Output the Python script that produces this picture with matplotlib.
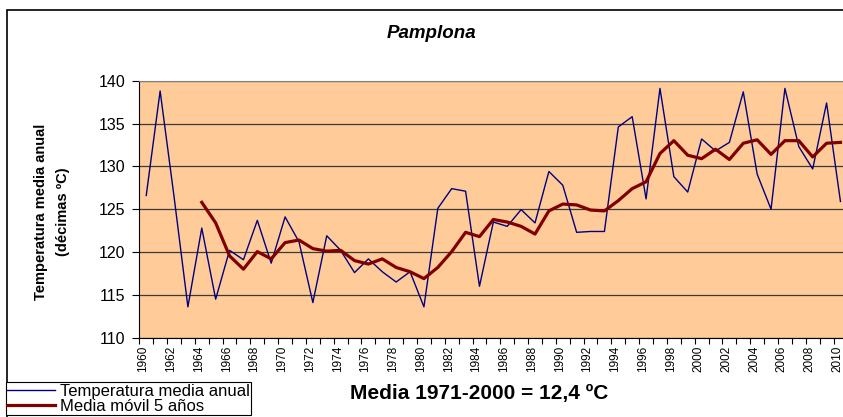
import matplotlib
matplotlib.use("Agg")
import matplotlib.pyplot as plt
import matplotlib.transforms as mtransforms
from matplotlib.patches import Rectangle
import numpy as np

plt.rcParams['font.family'] = ['Liberation Sans', 'DejaVu Sans']

# annual mean temperature, Pamplona (tenths of degree C)
years = list(range(1960, 2011))
temp = [126.6, 138.8, 126.5, 113.6, 122.8, 114.5, 120.2, 119.1, 123.7, 118.7,
        124.1, 121.2, 114.1, 121.9, 120.2, 117.6, 119.2, 117.7, 116.5, 117.7,
        113.6, 125.1, 127.4, 127.1, 116.0, 123.5, 123.0, 124.95, 123.4, 129.4,
        127.8, 122.3, 122.4, 122.4, 134.6, 135.8, 126.2, 139.1, 128.8, 127.0,
        133.2, 131.8, 132.8, 138.7, 129.1, 125.0, 139.1, 132.3, 129.7, 137.4,
        125.9]

# 5-year moving average, from 1964
ma_years = list(range(1964, 2011))
ma = [125.8, 123.4, 119.55, 118.0, 120.05, 119.2, 121.1, 121.4, 120.4, 120.1,
      120.2, 119.0, 118.6, 119.2, 118.2, 117.7, 116.9, 118.2, 120.05, 122.3,
      121.8, 123.8, 123.5, 123.0, 122.1, 124.8, 125.6, 125.5, 124.9, 124.8,
      126.0, 127.4, 128.2, 131.5, 133.0, 131.3, 130.9, 132.0, 130.8, 132.7,
      133.1, 131.4, 133.0, 133.0, 131.1, 132.7, 132.8]

W, H = 843, 417
fig = plt.figure(figsize=(W / 100, H / 100), dpi=100)

# outer chart border
fig.add_artist(Rectangle((7 / W, -0.05), 1.1, 1 - 10 / H + 0.05, transform=fig.transFigure,
                         fill=False, edgecolor='black', linewidth=1.2))

left, right, top, bottom = 139.3, 847.4, 80.7, 337.7
ax = fig.add_axes([left / W, 1 - bottom / H, (right - left) / W, (bottom - top) / H])
ax.set_facecolor('#FFCC99')

ax.plot(years, temp, color='#000080', linewidth=1.0, label='Temperatura media anual')
ax.plot(ma_years, ma, color='#800000', linewidth=2.3, label='Media móvil 5 años')

ax.set_xlim(1959.5, 2010.5)
ax.set_ylim(110, 140)
ax.set_yticks(range(110, 141, 5))
ax.yaxis.grid(True, color='#3a3a3a', linewidth=0.9)
ax.set_axisbelow(True)

ax.set_xticks(range(1960, 2011, 2))
ax.set_xticklabels([str(y) for y in range(1960, 2011, 2)], rotation=90, fontsize=8.5)
ax.set_xticks(np.arange(1959.5, 2011, 1), minor=True)
ax.tick_params(axis='x', which='major', length=0, pad=6)
ax.tick_params(axis='x', which='minor', length=4.5, width=0.8, color='black')
ax.tick_params(axis='y', length=5, width=0.8, labelsize=11.5, pad=5)
shift = mtransforms.ScaledTranslation(-3 / 100, 0, fig.dpi_scale_trans)
for lab in ax.get_xticklabels():
    lab.set_transform(lab.get_transform() + shift)

ax.spines['left'].set_color('black')
ax.spines['bottom'].set_color('black')
ax.spines['top'].set_color('#808080')
ax.spines['right'].set_visible(False)

fig.text(431 / W, 1 - 33 / H, 'Pamplona', ha='center', va='center',
         fontsize=13.5, fontweight='bold', fontstyle='italic')
fig.text(52 / W, 1 - 212 / H, 'Temperatura media anual\n(décimas ºC)', ha='center', va='center',
         rotation=90, fontsize=10.5, fontweight='bold', linespacing=1.75)
fig.text(479 / W, 1 - 394 / H, 'Media 1971-2000 = 12,4 ºC', ha='center', va='center',
         fontsize=15, fontweight='bold')

leg = fig.legend(loc='upper left', bbox_to_anchor=(5.5 / W, 1 - 382 / H), fontsize=12,
                 frameon=True, fancybox=False, edgecolor='black', framealpha=1,
                 borderpad=0.1, handlelength=2.9, handletextpad=0.25, labelspacing=0.0,
                 borderaxespad=0)
leg.get_frame().set_linewidth(0.8)

fig.savefig('out.png', dpi=100)
